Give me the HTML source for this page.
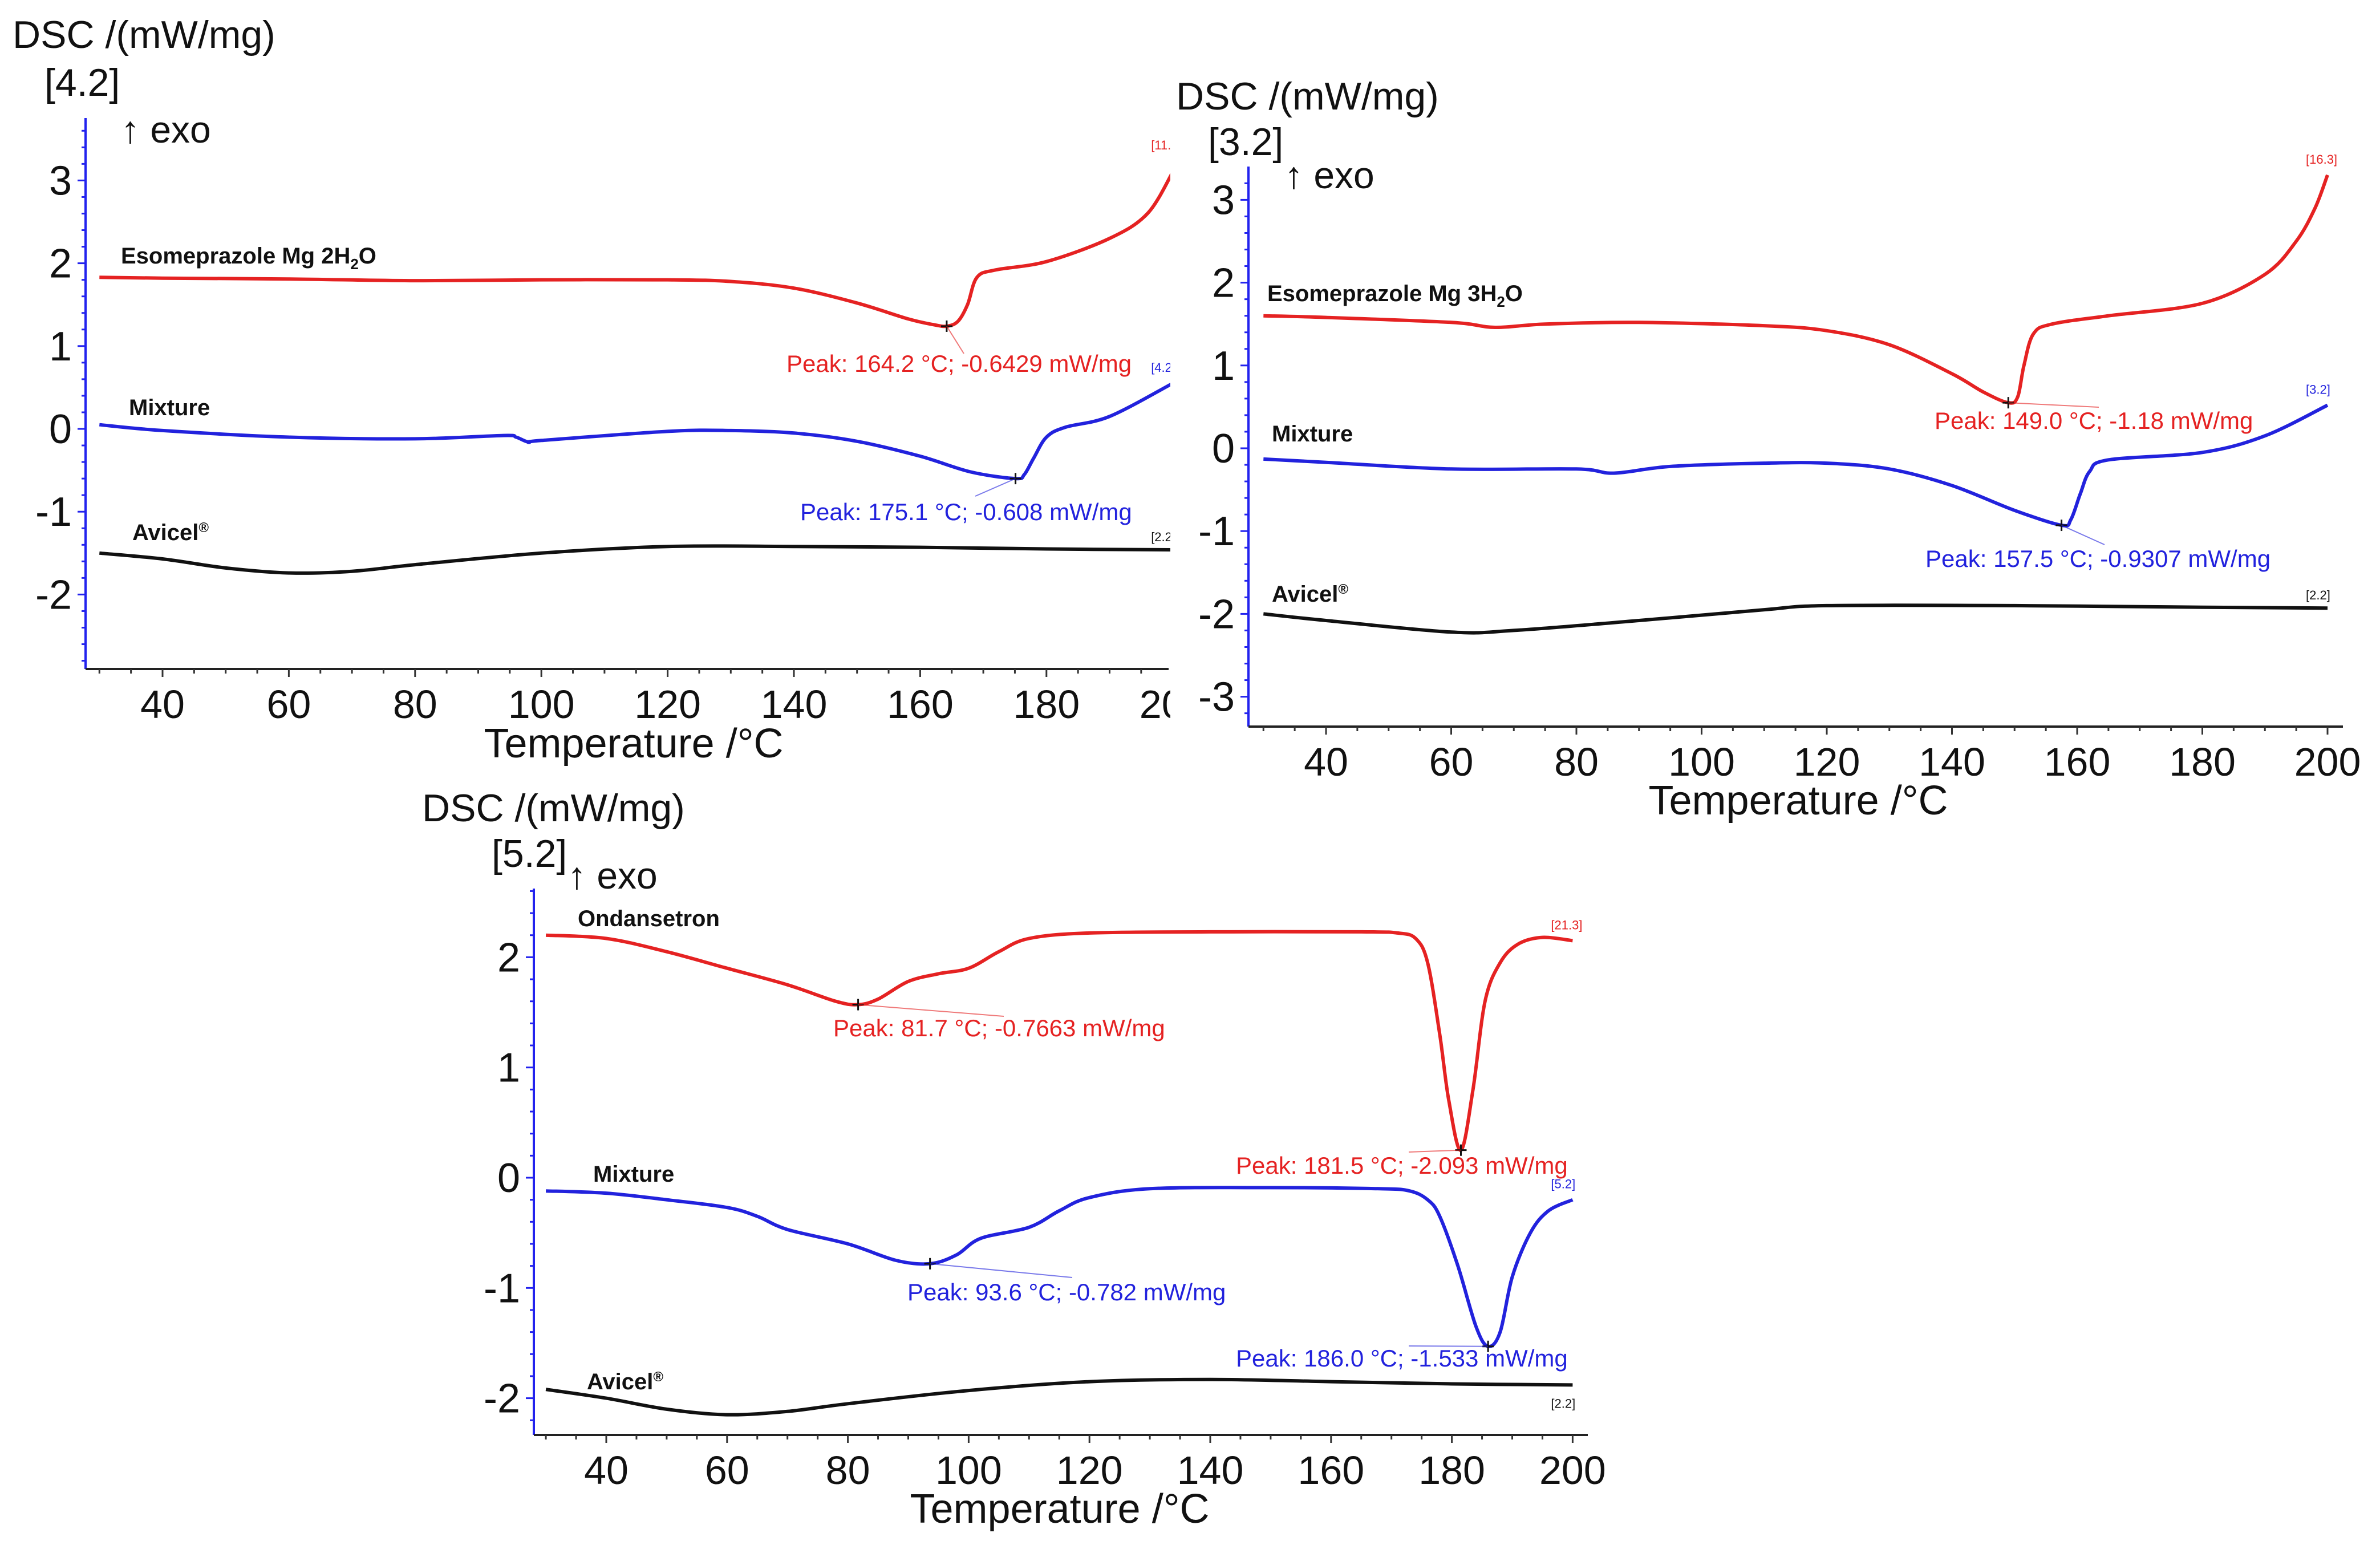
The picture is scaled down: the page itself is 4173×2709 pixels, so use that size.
<!DOCTYPE html>
<html><head><meta charset="utf-8">
<style>
html,body{margin:0;padding:0;background:#fff;}
svg{display:block;font-family:"Liberation Sans",Arial,sans-serif;}
</style></head>
<body>
<svg id="fig" width="4173" height="2709" viewBox="0 0 4173 2709" xmlns="http://www.w3.org/2000/svg">
<defs><clipPath id="clipA"><rect x="0" y="0" width="2052" height="1400"/></clipPath></defs>
</svg>
<script>
// ---- Data (temperature °C, DSC mW/mg offset-shifted as plotted) ----
const xTicks = [40,60,80,100,120,140,160,180,200];
// Chart A
const aRedT = [30,40,60,80,100,120,130,140,150,158,162,164.2,166,167.5,169,172,180,190,196,200];
const aRedV = [1.83,1.82,1.81,1.79,1.8,1.8,1.78,1.7,1.52,1.33,1.26,1.24,1.3,1.5,1.83,1.92,2.02,2.3,2.6,3.1];
const aBlueT = [30,40,60,80,94,96,98,100,120,130,140,150,160,168,175.1,176.5,178,180,183,190,200];
const aBlueV = [0.05,-0.02,-0.1,-0.12,-0.08,-0.1,-0.16,-0.14,-0.03,-0.02,-0.05,-0.15,-0.33,-0.52,-0.6,-0.55,-0.35,-0.1,0.02,0.15,0.55];
const aBlackT = [30,40,50,60,70,80,100,120,140,160,180,200];
const aBlackV = [-1.5,-1.57,-1.68,-1.74,-1.72,-1.64,-1.5,-1.42,-1.42,-1.43,-1.45,-1.46];
const aYTicks = [3,2,1,0,-1,-2];
// Chart B
const bRedT = [30,40,60,67,75,90,110,120,130,140,145,149,150.5,151.5,153,156,165,180,190,195,198,200];
const bRedV = [1.6,1.58,1.52,1.46,1.5,1.52,1.48,1.42,1.25,0.9,0.68,0.55,0.62,1.0,1.38,1.5,1.6,1.75,2.1,2.5,2.9,3.3];
const bBlueT = [30,40,60,80,86,95,110,120,130,140,150,157.5,159,160.5,162,165,180,190,200];
const bBlueV = [-0.13,-0.17,-0.25,-0.25,-0.3,-0.22,-0.18,-0.18,-0.25,-0.45,-0.75,-0.93,-0.86,-0.55,-0.28,-0.14,-0.05,0.15,0.52];
const bBlackT = [30,40,60,70,90,110,120,150,180,200];
const bBlackV = [-2.0,-2.08,-2.22,-2.2,-2.08,-1.95,-1.9,-1.9,-1.92,-1.93];
const bYTicks = [3,2,1,0,-1,-2,-3];
// Chart C
const cRedT = [30,40,50,60,70,78,81.7,85,90,95,100,105,110,120,140,165,171,174,176,178,179.5,181.5,183.5,185.5,188,191,195,200];
const cRedV = [2.2,2.17,2.05,1.9,1.75,1.6,1.57,1.62,1.78,1.85,1.9,2.05,2.17,2.22,2.23,2.23,2.22,2.17,1.95,1.3,0.7,0.25,0.8,1.6,1.95,2.12,2.18,2.15];
const cBlueT = [30,40,50,60,65,70,80,88,93.6,98,102,110,115,120,130,150,168,173,176,178,181,184,186,188,190,193,196,200];
const cBlueV = [-0.12,-0.14,-0.2,-0.27,-0.35,-0.47,-0.6,-0.75,-0.78,-0.7,-0.55,-0.45,-0.3,-0.18,-0.1,-0.09,-0.1,-0.12,-0.2,-0.35,-0.8,-1.35,-1.53,-1.4,-0.9,-0.5,-0.3,-0.2];
const cBlackT = [30,40,50,60,70,80,100,120,140,160,180,200];
const cBlackV = [-1.92,-2.0,-2.1,-2.15,-2.12,-2.05,-1.93,-1.85,-1.83,-1.85,-1.87,-1.88];
const cYTicks = [2,1,0,-1,-2];

const NS="http://www.w3.org/2000/svg";
const svg=document.getElementById('fig');
function mk(tag,attrs,parent){const e=document.createElementNS(NS,tag);for(const k in attrs)e.setAttribute(k,attrs[k]);(parent||svg).appendChild(e);return e;}
function txt(s,x,y,size,fill,parent,extra){const t=mk('text',Object.assign({x:x,y:y,'font-size':size,fill:fill},extra||{}),parent);t.textContent=s;return t;}

function smoothPath(pts){
  let d='M'+pts[0][0].toFixed(1)+','+pts[0][1].toFixed(1);
  for(let i=0;i<pts.length-1;i++){
    const p0=pts[Math.max(0,i-1)],p1=pts[i],p2=pts[i+1],p3=pts[Math.min(pts.length-1,i+2)];
    const c1=[p1[0]+(p2[0]-p0[0])/6,p1[1]+(p2[1]-p0[1])/6];
    const c2=[p2[0]-(p3[0]-p1[0])/6,p2[1]-(p3[1]-p1[1])/6];
    d+=' C'+c1[0].toFixed(1)+','+c1[1].toFixed(1)+' '+c2[0].toFixed(1)+','+c2[1].toFixed(1)+' '+p2[0].toFixed(1)+','+p2[1].toFixed(1);
  }
  return d;
}

function chart(cfg){
  const g=mk('g',cfg.clip?{'clip-path':cfg.clip}:{});
  
  
  const X=t=>cfg.x40+(t-40)*cfg.pxC;
  const Y=v=>cfg.y0-v*cfg.pxU;
  const ya=mk('line',{x1:cfg.axX,y1:cfg.axTop,x2:cfg.axX,y2:cfg.axBot,stroke:'#2222ee','stroke-width':4},g);
  
  
  const xa=mk('line',{x1:cfg.axX,y1:cfg.axBot,x2:cfg.axRight,y2:cfg.axBot,stroke:'#222','stroke-width':4},g);
  
  
  for(let t=30;t<=200;t+=5){const x=X(t);if(x>cfg.axRight+1)break;const major=t%20===0;mk('line',{x1:x,y1:cfg.axBot,x2:x,y2:cfg.axBot+(major?14:8),stroke:'#333','stroke-width':3},g);}
  xTicks.forEach(t=>{const x=X(t);const e=txt(String(t),x,cfg.axBot+86,70,'#111',g,{'text-anchor':'middle'});
    
    });
  for(let v=cfg.yMin;v<=cfg.yMax+0.001;v+=0.2){const y=Y(v);if(y<cfg.axTop||y>cfg.axBot)continue;const major=Math.abs(v-Math.round(v))<0.01;mk('line',{x1:cfg.axX,y1:y,x2:cfg.axX-(major?14:7),y2:y,stroke:'#2222ee','stroke-width':3},g);}
  cfg.yTicks.forEach(v=>{const e=txt(String(v),cfg.axX-24,Y(v)+25,72,'#111',g,{'text-anchor':'end'});
    
    });
  let e=txt('Temperature /°C',cfg.titleX,cfg.titleY,72,'#111',g,{'text-anchor':'middle'});
  
  
  e=txt('DSC /(mW/mg)',cfg.dscX,cfg.dscY,68,'#111',g);
  
  
  e=txt(cfg.bracket,cfg.brX,cfg.brY,68,'#111',g);
  
  
  e=txt('↑ exo',cfg.exoX,cfg.exoY,66,'#111',g);
  
  
  cfg.series.forEach(s=>{
    const pts=s.T.map((t,i)=>[X(t),Y(s.V[i])]);
    const p=mk('path',{d:smoothPath(pts),fill:'none',stroke:s.color,'stroke-width':6,'stroke-linejoin':'round'},g);
    
    
    const l=txt(s.label,s.lx,s.ly,40,'#111',g,{'font-weight':'bold'});
    if(s.sub){l.textContent='';const a=mk('tspan',{},l);a.textContent=s.label;const b=mk('tspan',{'font-size':26,dy:10},l);b.textContent='2';const c=mk('tspan',{dy:-10},l);c.textContent='O';}
    if(s.reg){l.textContent='';const a=mk('tspan',{},l);a.textContent='Avicel';const b=mk('tspan',{'font-size':24,dy:-14},l);b.textContent='®';}
    
    
    const m=txt(s.end,X(200)-38,Y(s.V[s.V.length-1])-(s.endDy||18),22,s.color,g);
    
    
    (s.peaks||[]).forEach(pk=>{
      const px=X(pk.t),py=Y(pk.v);
      mk('line',{x1:px-10,y1:py,x2:px+10,y2:py,stroke:'#111','stroke-width':3},g);
      mk('line',{x1:px,y1:py-10,x2:px,y2:py+10,stroke:'#111','stroke-width':3},g);
      mk('line',{x1:px,y1:py,x2:pk.lx2,y2:pk.ly2,stroke:s.color,'stroke-width':2,opacity:0.6},g);
      const pt=txt(pk.text,pk.tx,pk.ty,42,s.color,g);
      
      
    });
  });
}

chart({name:'chart-esomeprazole-2h2o',clip:'url(#clipA)',x40:285,pxC:11.07,y0:752,pxU:145.2,axX:150,axTop:207,axBot:1173,axRight:2049,yMin:-2.8,yMax:3.8,yTicks:aYTicks,
  titleX:1111,titleY:1328,dscX:22,dscY:84,bracket:'[4.2]',brX:78,brY:168,exoX:212,exoY:250,
  series:[
   {name:'red-curve-esomeprazole',T:aRedT,V:aRedV,color:'#e52222',label:'Esomeprazole Mg 2H',sub:true,lx:212,ly:462,end:'[11.3]',endDy:40,
    peaks:[{t:164.2,v:1.24,tx:1379,ty:652,lx2:1690,ly2:620,text:'Peak: 164.2 °C; -0.6429 mW/mg'}]},
   {name:'blue-curve-mixture',T:aBlueT,V:aBlueV,color:'#2222dd',label:'Mixture',lx:226,ly:728,end:'[4.2',endDy:20,
    peaks:[{t:175.1,v:-0.6,tx:1403,ty:912,lx2:1710,ly2:870,text:'Peak: 175.1 °C; -0.608 mW/mg'}]},
   {name:'black-curve-avicel',T:aBlackT,V:aBlackV,color:'#111',label:'Avicel',reg:true,lx:232,ly:947,end:'[2.2',endDy:15}
  ]});

chart({name:'chart-esomeprazole-3h2o',x40:2325,pxC:10.975,y0:786,pxU:145.2,axX:2189,axTop:292,axBot:1274,axRight:4108,yMin:-3.4,yMax:3.2,yTicks:bYTicks,
  titleX:3153,titleY:1428,dscX:2062,dscY:192,bracket:'[3.2]',brX:2118,brY:272,exoX:2252,exoY:330,
  series:[
   {name:'red-curve-esomeprazole',T:bRedT,V:bRedV,color:'#e52222',label:'Esomeprazole Mg 3H',sub:true,lx:2222,ly:528,end:'[16.3]',endDy:20,
    peaks:[{t:149.0,v:0.55,tx:3392,ty:752,lx2:3680,ly2:714,text:'Peak: 149.0 °C; -1.18 mW/mg'}]},
   {name:'blue-curve-mixture',T:bBlueT,V:bBlueV,color:'#2222dd',label:'Mixture',lx:2230,ly:774,end:'[3.2]',endDy:20,
    peaks:[{t:157.5,v:-0.93,tx:3376,ty:994,lx2:3690,ly2:955,text:'Peak: 157.5 °C; -0.9307 mW/mg'}]},
   {name:'black-curve-avicel',T:bBlackT,V:bBlackV,color:'#111',label:'Avicel',reg:true,lx:2230,ly:1055,end:'[2.2]',endDy:15}
  ]});

chart({name:'chart-ondansetron',x40:1063,pxC:10.59,y0:2065,pxU:193.3,axX:936,axTop:1558,axBot:2516,axRight:2784,yMin:-2.4,yMax:2.6,yTicks:cYTicks,
  titleX:1858,titleY:2670,dscX:740,dscY:1440,bracket:'[5.2]',brX:862,brY:1520,exoX:995,exoY:1558,
  series:[
   {name:'red-curve-ondansetron',T:cRedT,V:cRedV,color:'#e52222',label:'Ondansetron',lx:1013,ly:1624,end:'[21.3]',endDy:20,
    peaks:[{t:81.7,v:1.57,tx:1461,ty:1817,lx2:1760,ly2:1782,text:'Peak: 81.7 °C; -0.7663 mW/mg'},
           {t:181.5,v:0.25,tx:2167,ty:2058,lx2:2470,ly2:2020,text:'Peak: 181.5 °C; -2.093 mW/mg'}]},
   {name:'blue-curve-mixture',T:cBlueT,V:cBlueV,color:'#2222dd',label:'Mixture',lx:1040,ly:2072,end:'[5.2]',endDy:20,
    peaks:[{t:93.6,v:-0.78,tx:1591,ty:2280,lx2:1880,ly2:2240,text:'Peak: 93.6 °C; -0.782 mW/mg'},
           {t:186.0,v:-1.53,tx:2167,ty:2396,lx2:2470,ly2:2360,text:'Peak: 186.0 °C; -1.533 mW/mg'}]},
   {name:'black-curve-avicel',T:cBlackT,V:cBlackV,color:'#111',label:'Avicel',reg:true,lx:1029,ly:2436,end:'[2.2]',endDy:-40}
  ]});
</script>
</body></html>
